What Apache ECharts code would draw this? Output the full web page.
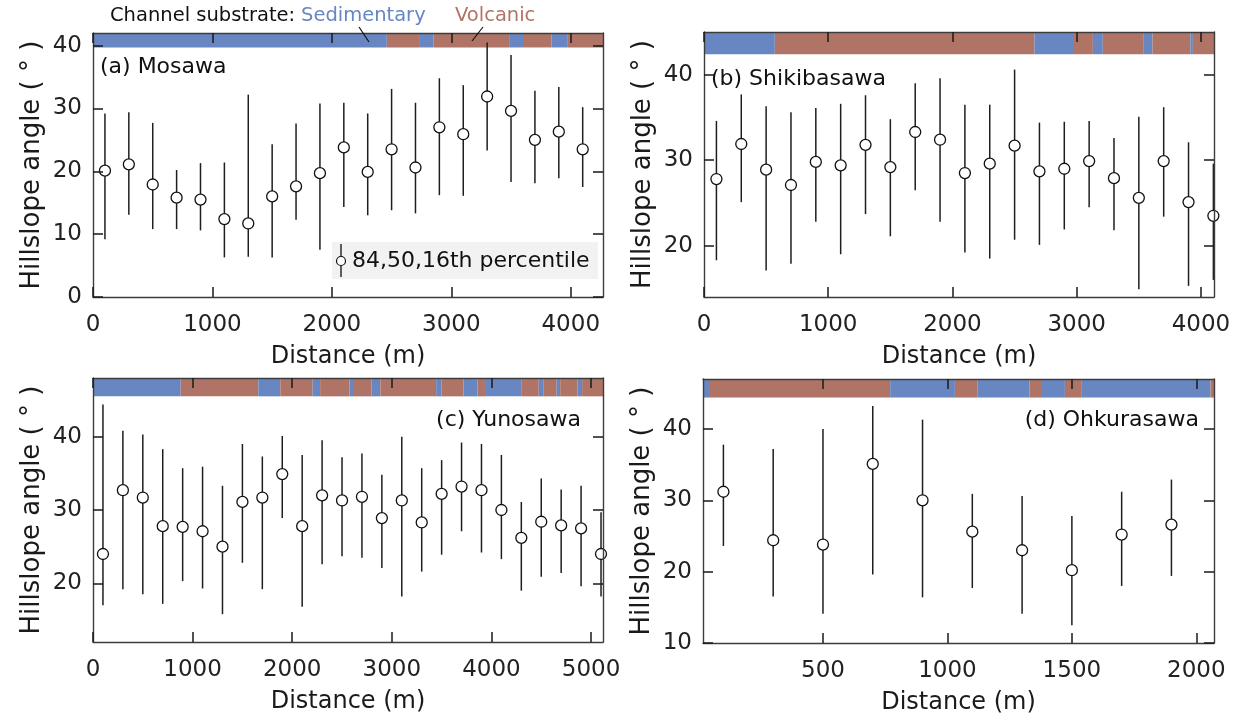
<!DOCTYPE html>
<html>
<head>
<meta charset="utf-8">
<title>Hillslope angle along channels</title>
<script src="https://cdn.jsdelivr.net/npm/echarts@6/dist/echarts.min.js"></script>
<style>
html, body { margin: 0; padding: 0; background: #fff; }
#chart { width: 1241px; height: 721px; }
</style>
</head>
<body>
<div id="chart"></div>
<script>
// (a) Mosawa
const distA = [100, 300, 500, 700, 900, 1100, 1300, 1500, 1700, 1900, 2100, 2300, 2500, 2700, 2900, 3100, 3300, 3500, 3700, 3900, 4100]
const p50A = [20.1, 21.1, 17.9, 15.8, 15.5, 12.4, 11.7, 16.0, 17.6, 19.7, 23.8, 19.9, 23.5, 20.6, 27.0, 25.9, 31.9, 29.6, 25.0, 26.3, 23.5]
const p84A = [29.2, 29.4, 27.7, 20.2, 21.3, 21.4, 32.2, 24.3, 27.6, 30.8, 30.9, 29.2, 33.1, 30.9, 34.8, 33.7, 40.5, 38.5, 32.8, 33.4, 30.2]
const p16A = [9.2, 13.1, 10.8, 10.8, 10.6, 6.3, 6.4, 6.3, 12.3, 7.5, 14.3, 13.0, 13.8, 13.3, 16.2, 16.1, 23.3, 18.3, 18.1, 18.9, 17.5]
const subEdgesA = [0, 2460, 2730, 2850, 3490, 3600, 3840, 3970, 4270]
const subTypesA = ['S', 'V', 'S', 'V', 'S', 'V', 'S', 'V']

// (b) Shikibasawa
const distB = [100, 300, 500, 700, 900, 1100, 1300, 1500, 1700, 1900, 2100, 2300, 2500, 2700, 2900, 3100, 3300, 3500, 3700, 3900, 4100]
const p50B = [27.8, 31.9, 28.9, 27.1, 29.8, 29.4, 31.8, 29.2, 33.3, 32.4, 28.5, 29.6, 31.7, 28.7, 29.0, 29.9, 27.9, 25.6, 29.9, 25.1, 23.5]
const p84B = [34.6, 37.7, 36.3, 35.6, 36.1, 36.6, 37.6, 34.8, 39.0, 39.6, 36.5, 36.5, 40.6, 34.4, 34.5, 34.6, 32.6, 35.1, 36.2, 32.1, 29.6]
const p16B = [18.3, 25.1, 17.1, 17.9, 22.8, 19.0, 23.7, 21.1, 26.5, 22.8, 19.2, 18.5, 20.7, 20.1, 21.9, 24.5, 21.8, 14.9, 23.4, 15.3, 16.0]
const subEdgesB = [0, 570, 2660, 2970, 3130, 3210, 3540, 3610, 3915, 3935, 4105]
const subTypesB = ['S', 'V', 'S', 'V', 'S', 'V', 'S', 'V', 'S', 'V']

// (c) Yunosawa
const distC = [100, 300, 500, 700, 900, 1100, 1300, 1500, 1700, 1900, 2100, 2300, 2500, 2700, 2900, 3100, 3300, 3500, 3700, 3900, 4100, 4300, 4500, 4700, 4900, 5100]
const p50C = [24.0, 32.7, 31.7, 27.8, 27.7, 27.1, 25.0, 31.1, 31.7, 34.9, 27.8, 32.0, 31.3, 31.8, 28.9, 31.3, 28.3, 32.2, 33.2, 32.7, 30.0, 26.2, 28.4, 27.9, 27.5, 24.0]
const p84C = [44.4, 40.8, 40.3, 38.3, 35.7, 35.9, 33.3, 39.0, 37.3, 40.1, 37.5, 39.5, 37.2, 37.7, 34.8, 40.0, 35.7, 36.8, 39.2, 39.0, 37.5, 31.1, 34.3, 32.8, 33.3, 29.7]
const p16C = [17.0, 19.2, 18.5, 17.2, 20.3, 19.3, 15.8, 22.8, 19.2, 28.9, 16.8, 22.6, 23.7, 23.5, 22.1, 18.2, 21.6, 23.9, 27.1, 24.2, 23.3, 19.0, 20.9, 21.4, 19.6, 18.2]
const subEdgesC = [0, 880, 1660, 1880, 2205, 2280, 2575, 2620, 2795, 2885, 3445, 3500, 3720, 3860, 3935, 4305, 4475, 4520, 4655, 4690, 4865, 4910, 5120]
const subTypesC = ['S', 'V', 'S', 'V', 'S', 'V', 'S', 'V', 'S', 'V', 'S', 'V', 'S', 'V', 'S', 'V', 'S', 'V', 'S', 'V', 'S', 'V']

// (d) Ohkurasawa
const distD = [100, 300, 500, 700, 900, 1100, 1300, 1500, 1700, 1900]
const p50D = [31.2, 24.4, 23.8, 35.1, 30.0, 25.6, 23.0, 20.2, 25.2, 26.6]
const p84D = [37.8, 37.2, 40.0, 43.2, 41.3, 30.9, 30.6, 27.8, 31.2, 32.9]
const p16D = [23.6, 16.5, 14.1, 19.6, 16.4, 17.7, 14.1, 12.5, 18.0, 19.4]
const subEdgesD = [18, 42, 770, 1030, 1120, 1330, 1380, 1472, 1540, 2057, 2071]
const subTypesD = ['S', 'V', 'S', 'V', 'S', 'V', 'S', 'V', 'S', 'V']

// tick labels
const xTicksA = [0, 1000, 2000, 3000, 4000]
const xTicksB = [0, 1000, 2000, 3000, 4000]
const xTicksC = [0, 1000, 2000, 3000, 4000, 5000]
const xTicksD = [500, 1000, 1500, 2000]
const yTicksA = [0, 10, 20, 30, 40]
const yTicksB = [20, 30, 40]
const yTicksC = [20, 30, 40]
const yTicksD = [10, 20, 30, 40]

const FONT = '"DejaVu Sans", Verdana, sans-serif'
const SUB_COLORS = { S: '#6786c2', V: '#b07467' }
const FRAME = '#3c3c3c'

const panels = [
  { dist: distA, p50: p50A, p84: p84A, p16: p16A, edges: subEdgesA, types: subTypesA,
    xTicks: xTicksA, yTicks: yTicksA, xMin: 0, xMax: 4270, yMin: 0, yMax: 42, barBottom: 39.7,
    grid: { left: 93, top: 33, width: 510, height: 264 } },
  { dist: distB, p50: p50B, p84: p84B, p16: p16B, edges: subEdgesB, types: subTypesB,
    xTicks: xTicksB, yTicks: yTicksB, xMin: 0, xMax: 4105, yMin: 14, yMax: 45, barBottom: 42.4,
    grid: { left: 704, top: 32, width: 510, height: 265 } },
  { dist: distC, p50: p50C, p84: p84C, p16: p16C, edges: subEdgesC, types: subTypesC,
    xTicks: xTicksC, yTicks: yTicksC, xMin: 0, xMax: 5120, yMin: 12, yMax: 48, barBottom: 45.5,
    grid: { left: 93, top: 378, width: 510, height: 264 } },
  { dist: distD, p50: p50D, p84: p84D, p16: p16D, edges: subEdgesD, types: subTypesD,
    xTicks: xTicksD, yTicks: yTicksD, xMin: 18, xMax: 2071, yMin: 10, yMax: 47, barBottom: 44.4,
    grid: { left: 703, top: 379, width: 511, height: 264 } }
]

const tickStyle = { color: '#1a1a1a', width: 1.5 }
const lineStyle = { color: FRAME, width: 1.4 }
const plain = v => String(v)

function xAxis(p, gi, pos) {
  const main = pos === 'bottom'
  return {
    type: 'value', gridIndex: gi, position: pos, min: p.xMin, max: p.xMax, z: 10,
    name: main ? 'Distance (m)' : '', nameLocation: 'middle', nameGap: 48,
    nameTextStyle: { fontSize: 24, color: '#1a1a1a', fontFamily: FONT },
    axisLine: { show: true, onZero: false, lineStyle },
    axisTick: { show: true, inside: true, length: 10, customValues: p.xTicks, lineStyle: tickStyle },
    axisLabel: { show: main, customValues: p.xTicks, formatter: plain, fontSize: 23, color: '#222', margin: 17, fontFamily: FONT },
    splitLine: { show: false }
  }
}

function yAxis(p, gi, pos) {
  const main = pos === 'left'
  return {
    type: 'value', gridIndex: gi, position: pos, min: p.yMin, max: p.yMax, z: 10,
    name: main ? 'Hillslope angle ( \u00b0 )' : '', nameLocation: 'middle', nameGap: 48,
    nameTextStyle: { fontSize: 26, color: '#1a1a1a', fontFamily: FONT },
    axisLine: { show: true, onZero: false, lineStyle },
    axisTick: { show: true, inside: true, length: 10, customValues: p.yTicks, lineStyle: tickStyle },
    axisLabel: { show: main, customValues: p.yTicks, formatter: plain, fontSize: 23, color: '#222', margin: 11, fontFamily: FONT },
    splitLine: { show: false }
  }
}

const grids = [], xAxes = [], yAxes = [], series = []
panels.forEach((p, i) => {
  grids.push(Object.assign({ containLabel: false }, p.grid))
  xAxes.push(xAxis(p, i, 'bottom'), xAxis(p, i, 'top'))
  yAxes.push(yAxis(p, i, 'left'), yAxis(p, i, 'right'))

  // substrate strip along the top of each panel
  const segs = p.types.map((t, k) => [p.edges[k], p.edges[k + 1], t === 'S' ? 0 : 1])
  series.push({
    type: 'custom', xAxisIndex: 2 * i, yAxisIndex: 2 * i, z: 1, silent: true,
    data: segs,
    renderItem: (params, api) => {
      const a = api.coord([api.value(0), p.yMax])
      const b = api.coord([api.value(1), p.barBottom])
      return {
        type: 'rect',
        shape: { x: a[0], y: a[1], width: b[0] - a[0], height: b[1] - a[1] },
        style: { fill: api.value(2) === 0 ? SUB_COLORS.S : SUB_COLORS.V }
      }
    }
  })

  // 16th-84th percentile bars
  series.push({
    type: 'custom', xAxisIndex: 2 * i, yAxisIndex: 2 * i, z: 3, silent: true,
    data: p.dist.map((d, k) => [d, p.p16[k], p.p84[k]]),
    renderItem: (params, api) => {
      const lo = api.coord([api.value(0), api.value(1)])
      const hi = api.coord([api.value(0), api.value(2)])
      return {
        type: 'line',
        shape: { x1: lo[0], y1: lo[1], x2: hi[0], y2: hi[1] },
        style: { stroke: '#1e1e1e', lineWidth: 1.5 }
      }
    }
  })

  // medians
  series.push({
    type: 'scatter', xAxisIndex: 2 * i, yAxisIndex: 2 * i, z: 4, silent: true,
    data: p.dist.map((d, k) => [d, p.p50[k]]),
    symbol: 'circle', symbolSize: 11,
    itemStyle: { color: '#fff', borderColor: '#111', borderWidth: 1.3, opacity: 1 }
  })
})

const txt = (text, x, y, size, fill, align) => ({
  type: 'text', x, y, z: 20, silent: true,
  style: { text, fill, font: size + 'px ' + FONT, textAlign: align || 'left', align: align || 'left',
    textVerticalAlign: 'middle', verticalAlign: 'middle' }
})

const graphic = [
  txt('Channel substrate:', 110, 16, 19.5, '#111'),
  txt('Sedimentary', 301, 16, 19.5, SUB_COLORS.S),
  txt('Volcanic', 455, 16, 19.5, SUB_COLORS.V),
  { type: 'line', z: 20, silent: true, shape: { x1: 359, y1: 27, x2: 369, y2: 42 }, style: { stroke: '#111', lineWidth: 1.2 } },
  { type: 'line', z: 20, silent: true, shape: { x1: 483, y1: 27, x2: 472, y2: 41 }, style: { stroke: '#111', lineWidth: 1.2 } },
  txt('(a) Mosawa', 100, 67, 22, '#111'),
  txt('(b) Shikibasawa', 711, 79, 22, '#111'),
  txt('(c) Yunosawa', 581, 420, 22, '#111', 'right'),
  txt('(d) Ohkurasawa', 1199, 420, 22, '#111', 'right'),
  // percentile key in panel (a)
  { type: 'rect', z: 19, silent: true, shape: { x: 332, y: 242, width: 266, height: 37 }, style: { fill: '#f2f2f2' } },
  { type: 'line', z: 20, silent: true, shape: { x1: 341, y1: 244, x2: 341, y2: 277 }, style: { stroke: '#1e1e1e', lineWidth: 1.4 } },
  { type: 'circle', z: 21, silent: true, shape: { cx: 341, cy: 261, r: 4.5 }, style: { fill: '#fff', stroke: '#111', lineWidth: 1.2 } },
  txt('84,50,16th percentile', 352, 261, 22, '#111')
]

const chart = echarts.init(document.getElementById('chart'), null, { renderer: 'canvas' })
chart.setOption({
  animation: false,
  backgroundColor: '#fff',
  textStyle: { fontFamily: FONT },
  grid: grids,
  xAxis: xAxes,
  yAxis: yAxes,
  series,
  graphic
})
</script>
</body>
</html>
